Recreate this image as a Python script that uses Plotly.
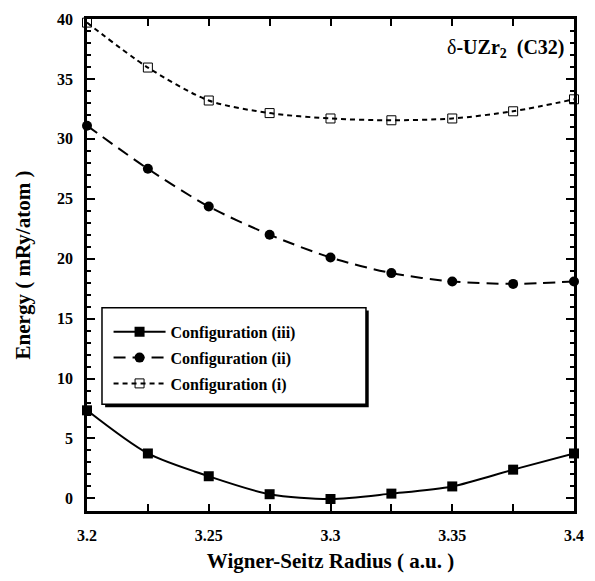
import plotly.graph_objects as go

radius = [3.2, 3.225, 3.25, 3.275, 3.3, 3.325, 3.35, 3.375, 3.4]
energy_iii = [7.35, 3.75, 1.85, 0.35, -0.05, 0.4, 1.0, 2.4, 3.75]
energy_ii = [31.1, 27.5, 24.35, 22.0, 20.1, 18.8, 18.1, 17.9, 18.1]
energy_i = [39.7, 35.95, 33.2, 32.15, 31.7, 31.55, 31.7, 32.3, 33.3]

x_tickvals = [3.2, 3.25, 3.3, 3.35, 3.4]
x_ticktext = ["3.2", "3.25", "3.3", "3.35", "3.4"]
y_tickvals = [0, 5, 10, 15, 20, 25, 30, 35, 40]

FONT = "Times New Roman"

fig = go.Figure()
fig.add_trace(go.Scatter(
    x=radius, y=energy_iii, mode="lines+markers", name="<b>Configuration (iii)</b>",
    line=dict(color="black", width=2, shape="spline", smoothing=0.8),
    marker=dict(symbol="square", size=10, color="black"),
    cliponaxis=False, legendgroup="a"))
fig.add_trace(go.Scatter(
    x=radius, y=energy_ii, mode="lines+markers", name="<b>Configuration (ii)</b>",
    line=dict(color="black", width=2, shape="spline", smoothing=0.8, dash="12px,7px"),
    marker=dict(symbol="circle", size=10, color="black"),
    cliponaxis=False, legendgroup="b"))
fig.add_trace(go.Scatter(
    x=radius, y=energy_i, mode="lines+markers", name="<b>Configuration (i)</b>",
    line=dict(color="black", width=2, shape="spline", smoothing=0.8, dash="5px,4px"),
    marker=dict(symbol="square-open", size=9, color="black", line=dict(width=1)),
    cliponaxis=False, legendgroup="c"))

L, R, T, B = 87, 11, 17, 66
W, H = 595, 581
pw, ph = W - L - R, H - T - B

def px(xp):
    return (xp - L) / pw

def py(yp):
    return (H - B - yp) / ph

# legend box with shadow
fig.add_shape(type="rect", xref="paper", yref="paper",
              x0=px(105.5), x1=px(374.5), y0=py(410), y1=py(312),
              fillcolor="black", line=dict(width=0), layer="above")
fig.add_shape(type="rect", xref="paper", yref="paper",
              x0=px(102.3), x1=px(371.7), y0=py(407), y1=py(309.3),
              fillcolor="white", line=dict(color="black", width=1.5), layer="above")

fig.add_annotation(
    text="δ<b>-UZr<sub>2</sub>  (C32)</b>", xref="paper", yref="paper",
    x=px(577), y=py(47), xanchor="right", yanchor="middle", showarrow=False,
    font=dict(family=FONT, size=20, color="black"))

fig.update_layout(
    width=W, height=H, margin=dict(l=L, r=R, t=T, b=B),
    plot_bgcolor="white", paper_bgcolor="white",
    font=dict(family=FONT, color="black"),
    showlegend=True,
    legend=dict(x=px(109), y=py(316.5), xanchor="left", yanchor="top",
                bgcolor="rgba(0,0,0,0)", borderwidth=0,
                font=dict(family=FONT, size=16, color="black"),
                itemwidth=52, tracegroupgap=2),
    xaxis=dict(range=[3.2, 3.4], tickvals=x_tickvals, ticktext=x_ticktext,
               ticks="inside", ticklen=7, tickwidth=2, tickcolor="black",
               minor=dict(tickvals=radius, ticks="inside", ticklen=7, tickwidth=2, tickcolor="black"),
               showline=True, linewidth=2.5, linecolor="black", mirror="ticks",
               showgrid=False, zeroline=False,
               tickfont=dict(family=FONT, size=16, color="black", weight="bold"),
               ticklabelstandoff=8,
               title=dict(text="<b>Wigner-Seitz Radius ( a.u. )</b>",
                          font=dict(family=FONT, size=21, color="black"), standoff=11)),
    yaxis=dict(range=[-1.05, 40], tickvals=y_tickvals,
               ticks="inside", ticklen=8, tickwidth=2, tickcolor="black",
               minor=dict(dtick=1, ticks="inside", ticklen=4, tickwidth=1.5, tickcolor="black"),
               showline=True, linewidth=2.5, linecolor="black", mirror="ticks",
               showgrid=False, zeroline=False,
               tickfont=dict(family=FONT, size=16, color="black", weight="bold"),
               ticklabelstandoff=8,
               title=dict(text="<b>Energy ( mRy/atom )</b>",
                          font=dict(family=FONT, size=21, color="black"), standoff=21)),
)

fig.write_html("out.html")
